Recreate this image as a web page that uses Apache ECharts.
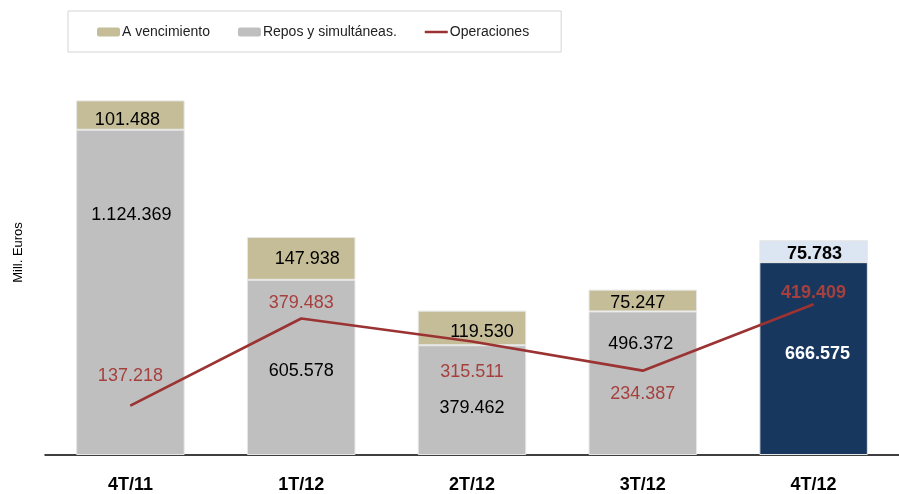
<!DOCTYPE html>
<html>
<head>
<meta charset="utf-8">
<script src="https://cdn.jsdelivr.net/npm/echarts@6/dist/echarts.min.js"></script>
<style>
  html, body { margin: 0; padding: 0; background: #fff; }
  #chart { width: 899px; height: 494px; }
</style>
</head>
<body>
<div id="chart"></div>
<script>
// datos (euros, miles)
var categories = ['4T/11', '1T/12', '2T/12', '3T/12', '4T/12'];
var repos = [1124369, 605578, 379462, 496372, 666575];
var vencimiento = [101488, 147938, 119530, 75247, 75783];
var operaciones = [137218, 379483, 315511, 234387, 419409];

// desplazamientos de etiquetas, como en el original
var reposOffset = [[1, -77], [0, 4], [0, 8], [-2, -39], [4, -5]];
var vencOffset = [[-3, 5], [6, 1], [10, 4], [-5, 3], [1, 3]];
var opePos = [['top', 20], ['top', 6], ['bottom', 21], ['bottom', 14], ['top', 2]];

var FONT = "'Liberation Sans', Arial, sans-serif";
var last = categories.length - 1;

function fmt(v) {
    return String(v).replace(/\B(?=(\d{3})+(?!\d))/g, '.');
}

var chart = echarts.init(document.getElementById('chart'));

var reposData = repos.map(function (v, i) {
    var d = {
        value: v,
        label: { offset: reposOffset[i] }
    };
    if (i === last) {
        d.itemStyle = { color: '#17375e' };
        d.label.color = '#fff';
        d.label.fontWeight = 'bold';
    }
    return d;
});

var vencData = vencimiento.map(function (v, i) {
    var d = {
        value: v,
        label: { offset: vencOffset[i] }
    };
    if (i === last) {
        d.itemStyle = { color: '#dce6f2' };
        d.label.fontWeight = 'bold';
    }
    return d;
});

var opeData = operaciones.map(function (v, i) {
    var d = {
        value: v,
        label: { position: opePos[i][0], distance: opePos[i][1] }
    };
    if (i === last) d.label.fontWeight = 'bold';
    return d;
});

var option = {
    animation: false,
    textStyle: { fontFamily: FONT },
    legend: {
        left: 68,
        top: 11,
        padding: [14, 32, 13, 29],
        borderColor: '#d4d4d4',
        borderWidth: 1,
        itemGap: 28,
        itemWidth: 23,
        itemHeight: 9,
        itemStyle: { borderWidth: 0 },
        textStyle: { fontSize: 14, color: '#222', fontFamily: FONT, padding: [0, 0, 0, -3] },
        data: [
            'A vencimiento',
            'Repos y simultáneas.',
            { name: 'Operaciones', icon: 'path://M0,0 L23,0 L23,2.5 L0,2.5 Z' }
        ]
    },
    grid: {
        left: 45,
        right: -12,
        top: 50,
        bottom: 37
    },
    xAxis: {
        type: 'category',
        data: categories,
        axisLine: { lineStyle: { color: '#000', width: 1.5 } },
        axisTick: { length: 7, lineStyle: { color: '#d9d9d9' } },
        axisLabel: {
            margin: 21,
            fontSize: 18,
            fontWeight: 'bold',
            color: '#000',
            fontFamily: FONT
        }
    },
    yAxis: [
        {
            type: 'value',
            min: 0,
            max: 1400000,
            name: 'Mill. Euros',
            nameLocation: 'middle',
            nameGap: 20,
            nameTextStyle: { fontSize: 13, color: '#000', fontFamily: FONT },
            axisLine: { show: false },
            axisTick: { show: false },
            axisLabel: { show: false },
            splitLine: { show: false }
        },
        {
            type: 'value',
            min: 0,
            max: 1126000,
            show: false,
            splitLine: { show: false }
        }
    ],
    series: [
        {
            name: 'Repos y simultáneas.',
            type: 'bar',
            stack: 'total',
            barWidth: 108.5,
            itemStyle: { color: '#bfbfbf', borderColor: '#e6e6e6', borderWidth: 1 },
            label: {
                show: true,
                position: 'inside',
                fontSize: 18,
                color: '#000',
                fontFamily: FONT,
                formatter: function (p) { return fmt(p.value); }
            },
            data: reposData
        },
        {
            name: 'A vencimiento',
            type: 'bar',
            stack: 'total',
            barWidth: 108.5,
            itemStyle: { color: '#c4bd97', borderColor: '#e6e6e6', borderWidth: 1 },
            label: {
                show: true,
                position: 'inside',
                fontSize: 18,
                color: '#000',
                fontFamily: FONT,
                formatter: function (p) { return fmt(p.value); }
            },
            data: vencData
        },
        {
            name: 'Operaciones',
            type: 'line',
            yAxisIndex: 1,
            symbol: 'circle',
            symbolSize: 1,
            showSymbol: true,
            lineStyle: { color: '#9b3333', width: 2.7 },
            itemStyle: { color: '#9b3333' },
            label: {
                show: true,
                fontSize: 18,
                color: '#a6403e',
                fontFamily: FONT,
                formatter: function (p) { return fmt(p.value); }
            },
            labelLayout: { hideOverlap: false },
            data: opeData,
            z: 5
        }
    ]
};

chart.setOption(option);
</script>
</body>
</html>
